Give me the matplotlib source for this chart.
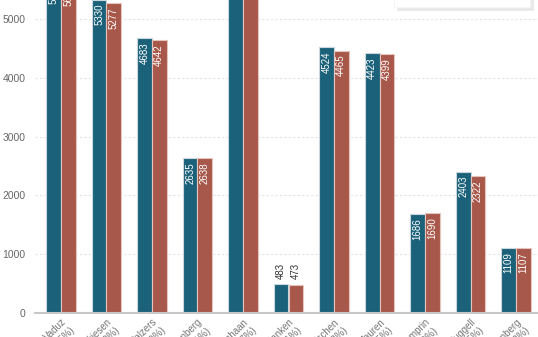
import matplotlib.pyplot as plt
import numpy as np

plt.rcParams['font.family'] = ['Liberation Sans', 'DejaVu Sans']

gemeinden = ['Vaduz', 'Triesen', 'Balzers', 'Triesenberg', 'Schaan', 'Planken',
             'Eschen', 'Mauren', 'Gamprin', 'Ruggell', 'Schellenberg']
einwohner_neu = [5696, 5330, 4683, 2635, 6039, 483, 4524, 4423, 1686, 2403, 1109]
einwohner_alt = [5668, 5277, 4642, 2638, 5998, 473, 4465, 4399, 1690, 2322, 1107]
jahr_neu = 'Bevölkerung 2020'
jahr_alt = 'Bevölkerung 2019'

BLAU = '#1b6179'
ROT = '#a8584a'

fig = plt.figure(figsize=(5.38, 3.37), dpi=100)
# axes reach above the top edge so the tallest bars run off the figure
ax = fig.add_axes([35 / 538, 24.3 / 337, 507 / 538, 410.9 / 337])

x = np.arange(len(gemeinden))
w = 0.32
b1 = ax.bar(x - w / 2, einwohner_neu, w, color=BLAU, edgecolor='#c9d8de',
            linewidth=0.8, label=jahr_neu, zorder=3)
b2 = ax.bar(x + w / 2, einwohner_alt, w, color=ROT, edgecolor='#e6c4bd',
            linewidth=0.8, label=jahr_alt, zorder=3)

# value labels, inside the bar unless it is too short
for bars in (b1, b2):
    for rect in bars:
        v = rect.get_height()
        cx = rect.get_x() + rect.get_width() / 2
        if v > 1000:
            ax.annotate(str(int(v)), (cx, v), xytext=(0, -3), textcoords='offset points',
                        rotation=90, ha='center', va='top', fontsize=7, color='white',
                        zorder=4)
        else:
            ax.annotate(str(int(v)), (cx, v), xytext=(0, 4), textcoords='offset points',
                        rotation=90, ha='center', va='bottom', fontsize=7, color='#333333',
                        zorder=4)

labels = []
for name, a, b in zip(gemeinden, einwohner_neu, einwohner_alt):
    labels.append('%s\n(%.1f%%)' % (name, (a - b) / b * 100))
ax.set_xticks(x)
ax.set_xticklabels(labels, rotation=45, ha='right', rotation_mode='anchor',
                   fontsize=7, color='#777777')

ax.set_xlim(-0.57, len(gemeinden) - 0.43)
ax.set_ylim(0, 7000)
ax.set_yticks(np.arange(0, 7001, 1000))
ax.tick_params(axis='y', labelsize=7.5, labelcolor='#666666', length=0, pad=7)
ax.tick_params(axis='x', length=0, pad=3)

ax.grid(axis='y', color='#e2e2e2', linestyle=(0, (2, 2)), linewidth=0.8, zorder=0)
for s in ['top', 'right', 'left']:
    ax.spines[s].set_visible(False)
ax.spines['bottom'].set_color('#c8c8c8')
ax.spines['bottom'].set_linewidth(1.5)
ax.spines['bottom'].set_zorder(5)

leg = fig.legend(loc='lower right', bbox_to_anchor=(530 / 538, 1 - 7 / 337),
                 ncol=1, fontsize=7.5, frameon=True, fancybox=False,
                 shadow={'color': '#e9e9e9', 'alpha': 1.0},
                 borderaxespad=0, borderpad=1.1, labelcolor='#555555')
leg.get_frame().set_edgecolor('#f4f4f4')
leg.get_frame().set_linewidth(0.6)
leg.get_frame().set_facecolor('white')

fig.savefig('out.png', dpi=100)
